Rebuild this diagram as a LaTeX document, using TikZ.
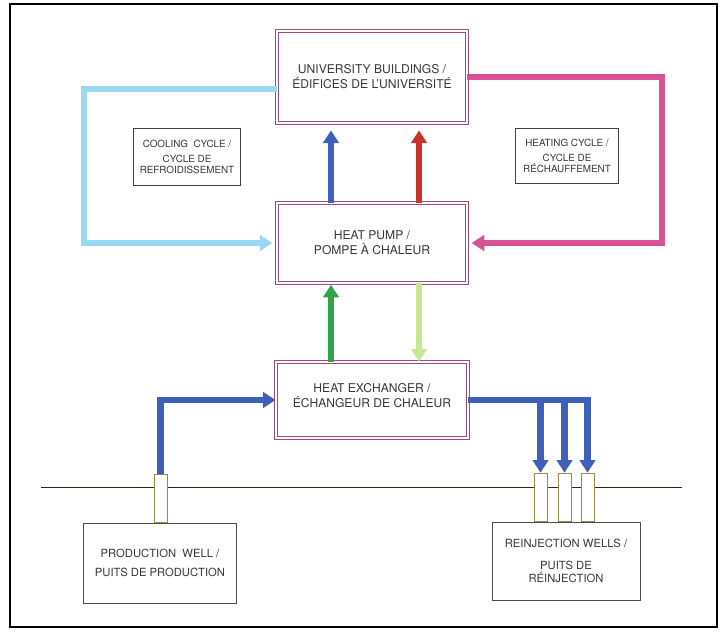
\documentclass[tikz,border=0pt]{standalone}
\usepackage{fontspec}
\setmainfont{TeX Gyre Heros}
\usepackage{xcolor}
\usepackage{tikz}
\usetikzlibrary{arrows.meta}

\definecolor{flowblue}{RGB}{62,96,186}
\definecolor{flowred}{RGB}{205,50,42}
\definecolor{flowgreen}{RGB}{48,165,72}
\definecolor{flowlime}{RGB}{198,232,146}
\definecolor{flowcyan}{RGB}{152,216,242}
\definecolor{flowpink}{RGB}{218,82,150}
\definecolor{boxpurple}{RGB}{156,74,128}
\definecolor{wellolive}{RGB}{150,140,70}
\definecolor{textgray}{RGB}{55,55,55}

\tikzset{
  unit/.style={draw=boxpurple, double=white, double distance=1.3pt, line width=0.5pt,
    text=textgray, align=center, font=\fontsize{8.6}{10.7}\selectfont},
  tag/.style={draw=black!75, line width=0.6pt, text=textgray, align=center,
    font=\fontsize{7}{8.2}\selectfont},
  well/.style={draw=black!70, line width=0.6pt, text=textgray, align=center,
    font=\fontsize{8}{9.5}\selectfont},
  pipe/.style={draw=wellolive, fill=white, line width=0.6pt, minimum width=0.325cm,
    minimum height=1.22cm, inner sep=0pt},
  flow/.style={line width=4.5pt, line join=miter, -{Triangle[width=11pt,length=9pt]}},
}

\begin{document}
\begin{tikzpicture}[x=0.025cm,y=-0.025cm]
\useasboundingbox (0,0) rectangle (722,632);
\draw[line width=0.8pt] (10,4) rectangle (717,627);
\draw[line width=0.7pt, draw=black!70!wellolive] (41,487) -- (682,487);

\node[unit, minimum width=4.75cm, minimum height=2.3cm] (ub) at (372,77) {UNIVERSITY BUILDINGS /\\ ÉDIFICES DE L'UNIVERSITÉ};
\node[unit, minimum width=4.75cm, minimum height=2.0cm] (hp) at (372,243) {HEAT PUMP /\\ POMPE À CHALEUR};
\node[unit, minimum width=4.8cm, minimum height=1.9cm] (hx) at (372,400) {HEAT EXCHANGER /\\ ÉCHANGEUR DE CHALEUR\\[-4pt]};
\node[tag, minimum width=2.68cm, minimum height=1.43cm] (cool) at (187,157) {COOLING\ \ CYCLE /\\[2.4pt] CYCLE DE\\ REFROIDISSEMENT};
\node[tag, minimum width=2.58cm, minimum height=1.38cm] (heat) at (567,156) {HEATING CYCLE /\\[2.4pt] CYCLE DE\\ RÉCHAUFFEMENT};
\node[well, minimum width=3.83cm, minimum height=2.0cm] (pw) at (160,563) {PRODUCTION\ \ WELL /\\[4pt] PUITS DE PRODUCTION};
\node[well, minimum width=3.7cm, minimum height=1.95cm] (rw) at (566,561) {REINJECTION WELLS /\\[6pt] PUITS DE\\[-0.5pt] RÉINJECTION};

\node[pipe] (pp) at (160.5,498.5) {};
\node[pipe] (r1) at (540.5,497.5) {};
\node[pipe] (r2) at (564.5,497.5) {};
\node[pipe] (r3) at (587.5,497.5) {};

\coordinate (cl) at (84,243);
\coordinate (cr) at (662,243);

\draw[flow, flowblue, shorten >=5pt] ([xshift=-1.025cm]hp.north) -- ([xshift=-1.025cm]ub.south);
\draw[flow, flowred, shorten >=5pt] ([xshift=1.175cm]hp.north) -- ([xshift=1.175cm]ub.south);
\draw[flow, flowgreen, shorten >=1pt] ([xshift=-1.025cm]hx.north) -- ([xshift=-1.025cm]hp.south);
\draw[flow, flowlime] ([xshift=1.175cm]hp.south) -- ([xshift=1.175cm]hx.north);
\draw[flow, flowcyan, shorten >=3pt] ([yshift=-0.3cm]ub.west) -| (cl) -- (hp.west);
\draw[flow, flowpink, shorten >=3pt] (ub.east) -| (cr) -- (hp.east);
\draw[flow, flowblue] (pp.north) |- (hx.west);
\draw[flow, flowblue] (hx.east) -| (r3.north);
\draw[flow, flowblue] (r1.north |- hx.east) -- (r1.north);
\draw[flow, flowblue] (r2.north |- hx.east) -- (r2.north);
\end{tikzpicture}
\end{document}
